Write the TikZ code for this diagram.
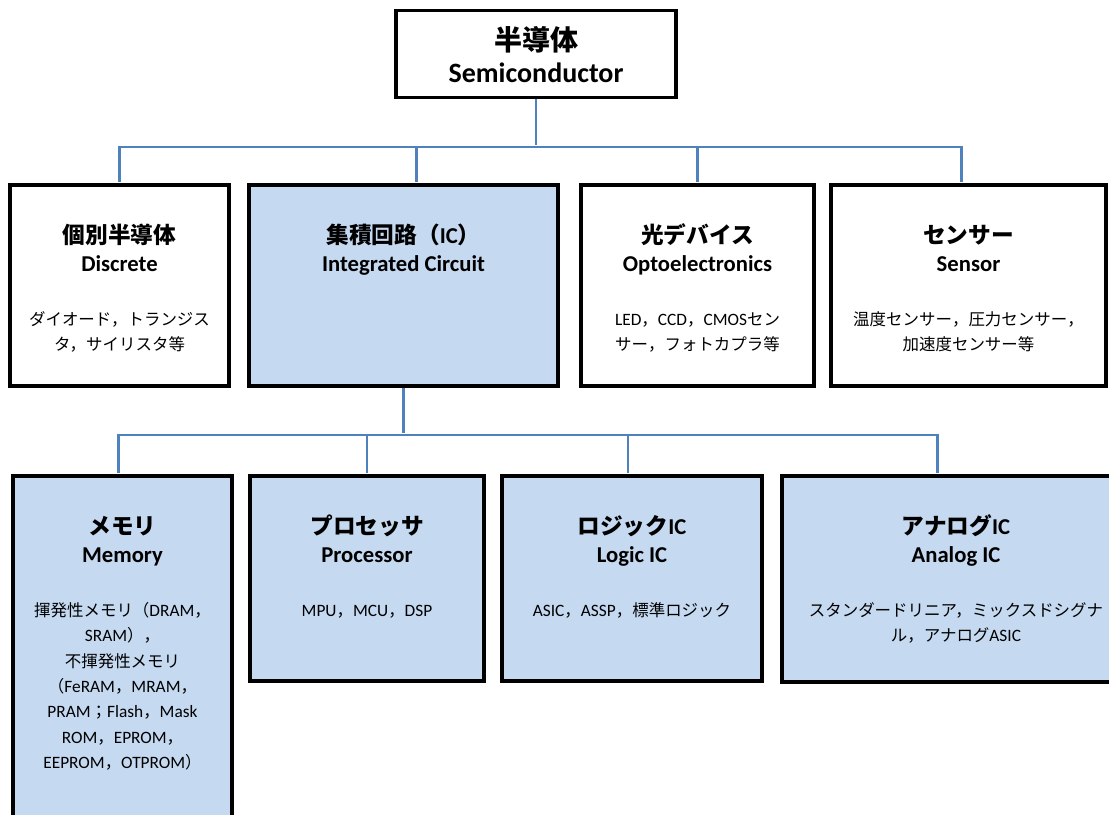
\documentclass[tikz,border=0pt]{standalone}
\usepackage{fontspec}
\setmainfont{Carlito}
\newfontfamily\jp{Noto Sans CJK JP}
\newfontfamily\jd[Scale=0.95]{Noto Sans CJK JP}
\definecolor{icblue}{RGB}{197,217,241}
\definecolor{wireblue}{RGB}{79,129,189}

\begin{document}
\begin{tikzpicture}[x=0.75pt,y=-0.75pt]
\tikzset{box/.style = {draw, line width=2.5pt, inner sep=0pt}}
\tikzset{icbox/.style = {box, fill=icblue}}
\tikzset{wire/.style = {-, line width=2.2pt, draw=wireblue, shorten >=1.2pt}}
\tikzset{head/.style = {anchor=base, inner sep=0pt, font=\fontsize{17}{20}\selectfont\bfseries}}
\tikzset{bighead/.style = {head, font=\fontsize{21}{24}\selectfont\bfseries}}
\tikzset{desc/.style = {anchor=base, inner sep=0pt, align=center, font=\fontsize{13}{19}\selectfont}}
\useasboundingbox (0,0) rectangle (1109,814);
% boxes
\node[box, minimum width=210pt, minimum height=65pt] (top) at (536,54) {};
\node[box, minimum width=164.25pt, minimum height=150.75pt] (disc) at (119.5,285.5) {};
\node[icbox, minimum width=231.75pt, minimum height=150.75pt] (ic) at (403.5,285.5) {};
\node[box, minimum width=174.75pt, minimum height=150.75pt] (opto) at (697.5,285.5) {};
\node[box, minimum width=206.25pt, minimum height=150.75pt] (sens) at (968.5,285.5) {};
\node[icbox, minimum width=164.25pt, minimum height=273pt] (mem) at (122.5,658) {};
\node[icbox, minimum width=175.5pt, minimum height=153.75pt] (proc) at (367,578.5) {};
\node[icbox, minimum width=195pt, minimum height=153.75pt] (logic) at (632,578.5) {};
\node[icbox, minimum width=261pt, minimum height=154.5pt] (ana) at (956,579) {};
% texts (base of a desc node is its last line)
\node[bighead] (top-jp) at ([yshift=-31pt]top.north) {\jp 半導体};
\node[bighead] (top-en) at ([yshift=-55pt]top.north) {Semiconductor};
\node[head] (disc-jp) at ([yshift=-45pt]disc.north) {\jp 個別半導体};
\node[head] (disc-en) at ([yshift=-66pt]disc.north) {Discrete};
\node[desc] (disc-tx) at ([yshift=-125.5pt]disc.north) {\jd ダイオード，トランジス\\\jd タ，サイリスタ等};
\node[head] (ic-jp) at ([yshift=-45pt]ic.north) {{\jp 集積回路（}IC{\jp ）}};
\node[head] (ic-en) at ([yshift=-66pt]ic.north) {Integrated Circuit};
\node[head] (opto-jp) at ([yshift=-45pt]opto.north) {\jp 光デバイス};
\node[head] (opto-en) at ([yshift=-66pt]opto.north) {Optoelectronics};
\node[desc] (opto-tx) at ([yshift=-125.5pt]opto.north) {LED{\jd ，}CCD{\jd ，}CMOS{\jd セン}\\\jd サー，フォトカプラ等};
\node[head] (sens-jp) at ([yshift=-45pt]sens.north) {\jp センサー};
\node[head] (sens-en) at ([yshift=-66pt]sens.north) {Sensor};
\node[desc] (sens-tx) at ([yshift=-125.5pt]sens.north) {\jd 温度センサー，圧力センサー，\\\jd 加速度センサー等};
\node[head] (mem-jp) at ([yshift=-45pt]mem.north) {\jp メモリ};
\node[head] (mem-en) at ([yshift=-66pt]mem.north) {Memory};
\node[desc] (mem-tx) at ([yshift=-220.5pt]mem.north) {{\jd 揮発性メモリ（}DRAM{\jd ，}\\SRAM{\jd ），}\\\jd 不揮発性メモリ\\{\jd （}FeRAM{\jd ，}MRAM{\jd ，}\\PRAM{\jd ；}Flash{\jd ，}Mask\\ROM{\jd ，}EPROM{\jd ，}\\EEPROM{\jd ，}OTPROM{\jd ）}};
\node[head] (proc-jp) at ([yshift=-45pt]proc.north) {\jp プロセッサ};
\node[head] (proc-en) at ([yshift=-66pt]proc.north) {Processor};
\node[desc] (proc-tx) at ([yshift=-106.5pt]proc.north) {MPU{\jd ，}MCU{\jd ，}DSP};
\node[head] (logic-jp) at ([yshift=-45pt]logic.north) {{\jp ロジック}IC};
\node[head] (logic-en) at ([yshift=-66pt]logic.north) {Logic IC};
\node[desc] (logic-tx) at ([yshift=-106.5pt]logic.north) {ASIC{\jd ，}ASSP{\jd ，標準ロジック}};
\node[head] (ana-jp) at ([yshift=-45pt]ana.north) {{\jp アナログ}IC};
\node[head] (ana-en) at ([yshift=-66pt]ana.north) {Analog IC};
\node[desc] (ana-tx) at ([yshift=-125.5pt]ana.north) {\jd スタンダードリニア，ミックスドシグナ\\{\jd ル，アナログ}ASIC};
% connectors
\coordinate (bus1) at (top.south |- 0,147);
\coordinate (bus2) at (ic.south |- 0,435);
\draw[wire] (top.south) -- (bus1);
\draw[wire] (bus1) -| (disc.north);
\draw[wire] (bus1) -| ([xshift=10pt]ic.north);
\draw[wire] (bus1) -| (opto.north);
\draw[wire] (bus1) -| ([xshift=-5pt]sens.north);
\draw[wire] (ic.south) -- (bus2);
\draw[wire] (bus2) -| ([xshift=-3pt]mem.north);
\draw[wire] (bus2) -| (proc.north);
\draw[wire] (bus2) -| ([xshift=-3pt]logic.north);
\draw[wire] (bus2) -| ([xshift=-14pt]ana.north);
\end{tikzpicture}
\end{document}
